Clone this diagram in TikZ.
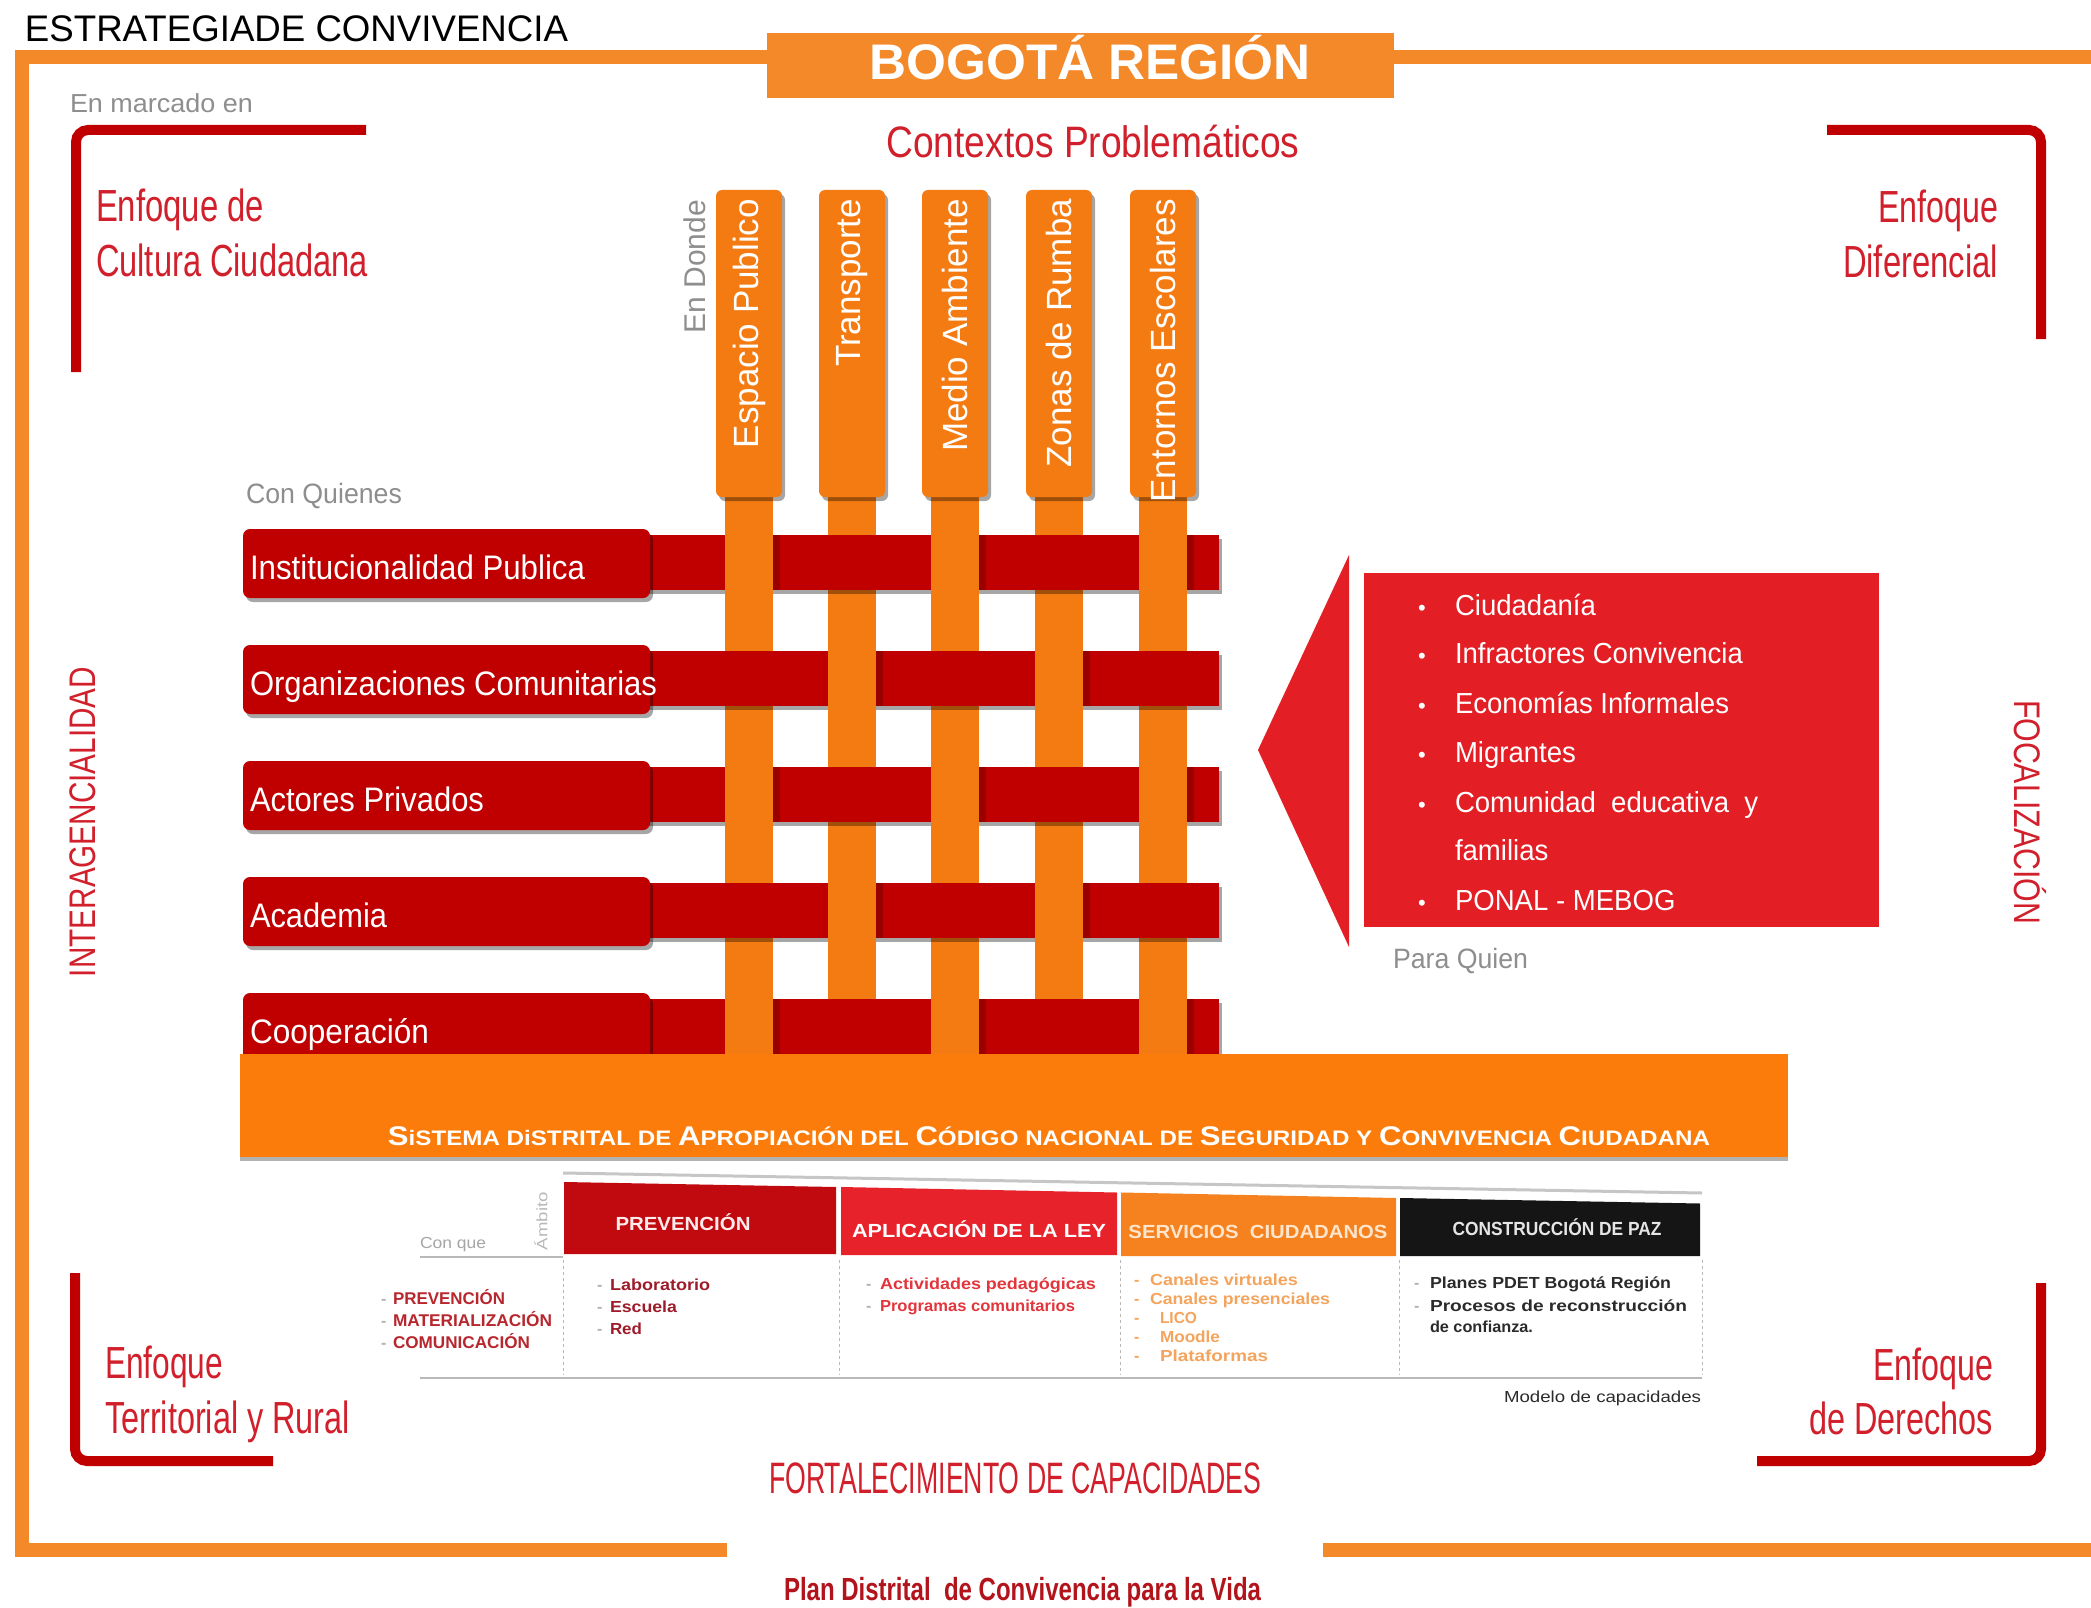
\documentclass[tikz,border=0pt]{standalone}
\usepackage{fontspec}
\setmainfont{Liberation Sans}
\usepackage{graphicx}
\usetikzlibrary{shadows}
\newcommand\fs[1]{\fontsize{#1}{#1}\selectfont}
\newcommand\fw[2]{\resizebox{#1}{\height}{#2}}
\newcommand\capL[1]{{\fs{27}#1}}
\definecolor{frameor}{HTML}{F4892A}
\definecolor{tabor}{HTML}{F47B12}
\definecolor{bandor}{HTML}{FB7C0A}
\definecolor{darkred}{HTML}{C00000}
\definecolor{brightred}{HTML}{E31E24}
\definecolor{titred}{HTML}{D1202B}
\definecolor{graytxt}{HTML}{8E8E8E}
\definecolor{hdrA}{HTML}{C00A0F}
\definecolor{hdrB}{HTML}{E8222B}
\definecolor{hdrC}{HTML}{F5821F}
\definecolor{hdrD}{HTML}{151515}
\definecolor{lred}{HTML}{B8262E}
\definecolor{pred}{HTML}{9E1B2A}
\definecolor{ared}{HTML}{E2363C}
\definecolor{sor}{HTML}{F4A45C}
\definecolor{cgr}{HTML}{2B2B2B}
\definecolor{plred}{HTML}{B3141C}
\tikzset{
  shd/.style={drop shadow={opacity=.35, shadow xshift=3pt, shadow yshift=-4pt, fill=black}},
  ttl/.style={text=titred, font=\fs{45}},
  gtxt/.style={text=graytxt},
  dashn/.style={anchor=base west, font=\fs{16}\bfseries},
  itm/.style={anchor=base west, font=\fs{16}\bfseries},
  hdr/.style={anchor=base, font=\fs{19}\bfseries},
}
\begin{document}
\begin{tikzpicture}[x=1pt,y=-1pt, every node/.style={inner sep=0pt, outer sep=0pt}]
\useasboundingbox[fill=white] (0,0) rectangle (2091,1608);

% frame
\draw[frameor, line width=14pt] (2091,57.5) -- (22,57.5) -- (22,1550) -- (727,1550);
\draw[frameor, line width=14pt] (1323,1550) -- (2091,1550);
\node[fill=frameor, minimum width=627pt, minimum height=65pt, anchor=north west] (bogbox) at (767,33) {};
\node[anchor=base, text=white, font=\fs{50}\bfseries] (bogtxt) at (1090,80) {\fw{441pt}{BOGOTÁ REGIÓN}};
\node[anchor=base west, text=black, font=\fs{37}] (estr) at (25,42) {\fw{543pt}{ESTRATEGIADE CONVIVENCIA}};
\node[anchor=base west, gtxt, font=\fs{26}] (enmarc) at (70,113) {\fw{183pt}{En marcado en}};

% corner brackets
\draw[darkred, line width=10pt, rounded corners=12pt] (76,372) -- (76,130) -- (366,130);
\draw[darkred, line width=10pt, rounded corners=12pt] (1827,130) -- (2041,130) -- (2041,339);
\draw[darkred, line width=10pt, rounded corners=12pt] (75,1273) -- (75,1461) -- (273,1461);
\draw[darkred, line width=10pt, rounded corners=12pt] (1757,1461) -- (2041,1461) -- (2041,1283);
\node[ttl, anchor=base west] (tla) at (96,222) {\fw{168pt}{Enfoque de}};
\node[ttl, anchor=base west] (tlb) at (96,276) {\fw{272pt}{Cultura Ciudadana}};
\node[ttl, anchor=base east] (tra) at (1998,223) {\fw{120pt}{Enfoque}};
\node[ttl, anchor=base east] (trb) at (1998,277) {\fw{155pt}{Diferencial}};
\node[ttl, anchor=base west] (bla) at (105,1378) {\fw{118pt}{Enfoque}};
\node[ttl, anchor=base west] (blb) at (105,1433) {\fw{245pt}{Territorial y Rural}};
\node[ttl, anchor=base east] (bra) at (1993,1380) {\fw{120pt}{Enfoque}};
\node[ttl, anchor=base east] (brb) at (1993,1434) {\fw{184pt}{de Derechos}};
\node[ttl, font=\fs{44}, anchor=base] (ctx) at (1093,158) {\fw{413pt}{Contextos Problemáticos}};

% side labels
\node[rotate=90, text=titred, font=\fs{37}] (inter) at (83,822) {\fw{310pt}{INTERAGENCIALIDAD}};
\node[rotate=-90, text=titred, font=\fs{37}] (focal) at (2030,812) {\fw{224pt}{FOCALIZACIÓN}};

% columns
\node[rotate=90, anchor=east, gtxt, font=\fs{30}] (endonde) at (695,200) {En Donde};
\foreach \cx/\txt [count=\i] in {749/Espacio Publico, 852/Transporte, 955/Medio Ambiente, 1059/Zonas de Rumba, 1163/Entornos Escolares}{
  \fill[tabor] (\cx-24,480) rectangle (\cx+24,1056);
  \fill[tabor, rounded corners=6pt, shd] (\cx-33,190) rectangle (\cx+33,497);
  \node[rotate=90, anchor=east, text=white, font=\fs{35}] (ctab\i) at (\cx,199) {\txt};
}
\node[anchor=base west, gtxt, font=\fs{28}] (conq) at (246,503) {\fw{156pt}{Con Quienes}};

% rows
\foreach \lab/\w [count=\j] in {Institucionalidad Publica/335, Organizaciones Comunitarias/407, Actores Privados/234, Academia/137, Cooperación/179}{
  \pgfmathsetmacro\t{529+116*(\j-1)}
  \fill[darkred, shd] (640,\t+6) rectangle (1219,\t+61);
  \fill[darkred, rounded corners=7pt, shd] (243,\t) rectangle (650,\t+69);
  \node[anchor=base west, text=white, font=\fs{34}] (row\j) at (250,\t+50) {\fw{\w pt}{\lab}};
}
% weave: columns over rows
\foreach \cx [count=\i] in {749,852,955,1059,1163}{
  \foreach \j in {1,...,5}{
    \pgfmathsetmacro\t{529+116*(\j-1)}
    \pgfmathtruncatemacro\parity{mod(\i+\j,2)}
    \ifnum\parity=0
      \fill[tabor] (\cx-24,\t+3) rectangle (\cx+24,\t+68);
      \fill[black, opacity=.2] (\cx+24,\t+6) rectangle (\cx+31,\t+61);
    \fi
  }
}

% orange band
\fill[bandor, drop shadow={opacity=.3, shadow xshift=0pt, shadow yshift=-4pt, fill=black}] (240,1054) rectangle (1788,1157);
\node[anchor=base, text=white, font=\fs{21}\bfseries] (bandtxt) at (1049,1145) {\fw{1322pt}{\capL{S}iSTEMA DiSTRITAL DE \capL{A}PROPIACIÓN DEL \capL{C}ÓDIGO NACIONAL DE \capL{S}EGURIDAD Y \capL{C}ONVIVENCIA \capL{C}IUDADANA}};

% focus arrow and box
\fill[brightred] (1258,750) -- (1349,555) -- (1349,947) -- cycle;
\fill[brightred] (1364,573) rectangle (1879,927);
\foreach \y/\txt [count=\k] in {615/Ciudadanía, 663/Infractores Convivencia, 713/Economías Informales, 762/Migrantes, 812/Comunidad\ \ educativa\ \ y, 910/PONAL - MEBOG}{
  \node[anchor=base, text=white, font=\fs{22}] (bul\k) at (1422,\y) {•};
  \node[anchor=base west, text=white, font=\fs{29}] (it\k) at (1455,\y) {\fw{0.95\width}{\txt}};
}
\node[anchor=base west, text=white, font=\fs{29}] (itfam) at (1455,860) {\fw{0.95\width}{familias}};
\node[anchor=base west, gtxt, font=\fs{28}] (paraq) at (1393,968) {\fw{135pt}{Para Quien}};

% capacities table
\draw[gray!45, line width=3pt] (563,1173) -- (1702,1193);
\fill[hdrA] (564,1182) -- (836,1187) -- (836,1254) -- (564,1254) -- cycle;
\fill[hdrB] (841,1187) -- (1117,1192.5) -- (1117,1255) -- (841,1255) -- cycle;
\fill[hdrC] (1121,1192.5) -- (1396,1198) -- (1396,1256) -- (1121,1256) -- cycle;
\fill[hdrD] (1400,1198) -- (1700,1203.5) -- (1700,1256) -- (1400,1256) -- cycle;
\node[hdr, text=white!92!red] (hA) at (683,1230) {\fw{135pt}{PREVENCIÓN}};
\node[hdr, text=white] (hB) at (979,1237) {\fw{254pt}{APLICACIÓN DE LA LEY}};
\node[hdr, text=white!80!orange] (hC) at (1258,1238) {\fw{259pt}{SERVICIOS\ \ CIUDADANOS}};
\node[hdr, text=white!90!black] (hD) at (1557,1235) {\fw{209pt}{CONSTRUCCIÓN DE PAZ}};
\node[rotate=90, anchor=west, text=gray!55, font=\fs{15}] (ambito) at (541,1250) {\fw{58pt}{Ámbito}};
\node[anchor=base west, text=gray!70, font=\fs{16}] (conque) at (420,1248) {\fw{66pt}{Con que}};
\draw[gray!55, line width=2pt] (420,1257) -- (563,1257);
\draw[gray!55, line width=2.5pt] (420,1378) -- (1702,1378);
\foreach \xx [count=\k] in {563,839,1120,1399,1702}
  \draw[gray!55, dashed, line width=1pt] (\xx,1260) -- (\xx,1375);
% left list
\foreach \y/\w/\txt [count=\k] in {1304/112/PREVENCIÓN, 1326/159/MATERIALIZACIÓN, 1348/137/COMUNICACIÓN}{
  \node[dashn, text=gray!60] (ld\k) at (381,\y) {-};
  \node[itm, text=lred, font=\fs{17}\bfseries] (lt\k) at (393,\y) {\fw{\w pt}{\txt}};
}
% prevention
\foreach \y/\w/\txt [count=\k] in {1290/100/Laboratorio, 1312/67/Escuela, 1334/32/Red}{
  \node[dashn, text=gray!60] (pd\k) at (597,\y) {-};
  \node[itm, text=pred] (pt\k) at (610,\y) {\fw{\w pt}{\txt}};
}
% application
\foreach \y/\w/\txt [count=\k] in {1289/216/Actividades pedagógicas, 1311/195/Programas comunitarios}{
  \node[dashn, text=gray!60] (ad\k) at (866,\y) {-};
  \node[itm, text=ared] (at\k) at (880,\y) {\fw{\w pt}{\txt}};
}
% services
\foreach \y/\x/\w/\txt [count=\k] in {1285/1150/148/Canales virtuales, 1304/1150/180/Canales presenciales, 1323/1160/37/LICO, 1342/1160/60/Moodle, 1361/1160/108/Plataformas}{
  \node[dashn, text=sor] (sd\k) at (1134,\y) {-};
  \node[itm, text=sor] (st\k) at (\x,\y) {\fw{\w pt}{\txt}};
}
% peace
\node[dashn, text=gray!60] (cd1) at (1414,1288) {-};
\node[dashn, text=gray!60] (cd2) at (1414,1311) {-};
\node[itm, text=cgr] (ct1) at (1430,1288) {\fw{241pt}{Planes PDET Bogotá Región}};
\node[itm, text=cgr] (ct2) at (1430,1311) {\fw{257pt}{Procesos de reconstrucción}};
\node[itm, text=cgr] (ct3) at (1430,1332) {\fw{103pt}{de confianza.}};
\node[anchor=base east, text=cgr, font=\fs{16}] (modelo) at (1701,1402) {\fw{197pt}{Modelo de capacidades}};

% bottom titles
\node[ttl, font=\fs{44}, anchor=base west] (fort) at (769,1493) {\fw{492pt}{FORTALECIMIENTO DE CAPACIDADES}};
\node[anchor=base west, text=plred, font=\fs{32}\bfseries] (plan) at (784,1600) {\fw{477pt}{Plan Distrital\ \ de Convivencia para la Vida}};
\end{tikzpicture}
\end{document}
